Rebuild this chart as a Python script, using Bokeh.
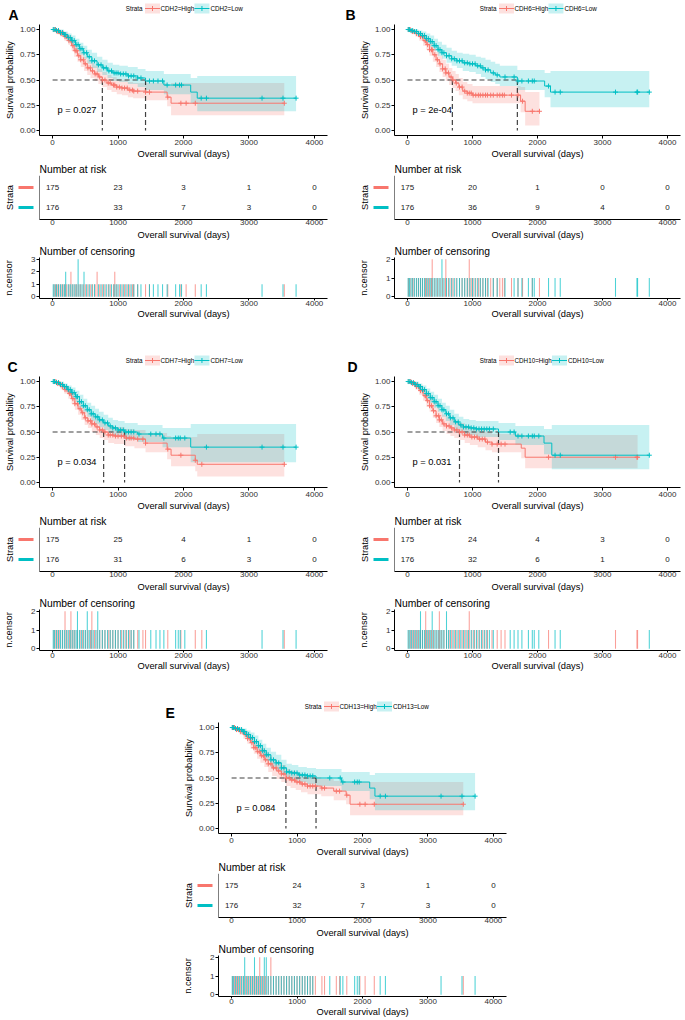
import numpy as np
from bokeh.plotting import figure
from bokeh.layouts import column, row
from bokeh.models import Range1d, FixedTicker, PrintfTickFormatter, Span, Spacer
from bokeh.core.properties import value
from bokeh.embed import file_html
from bokeh.resources import INLINE

RED = "#F8766D"
TEAL = "#00BFC4"
FONT = "Liberation Sans"

LETTERS = ["A", "B", "C", "D", "E"]
GENES = ["CDH2", "CDH6", "CDH7", "CDH10", "CDH13"]
PVALS = ["p = 0.027", "p = 2e-04", "p = 0.034", "p = 0.031", "p = 0.084"]
RISK_TIMES = [0, 1000, 2000, 3000, 4000]
X_TICKS = [0, 1000, 2000, 3000, 4000]
X_LO, X_HI = -200, 4200

# ---------------- Panel A : CDH2 ----------------
A_HIGH_T = [0, 60, 120, 180, 240, 290, 330, 380, 430, 480, 530, 580, 640, 700, 760, 830, 900, 980, 1060, 1150, 1230, 1420, 1750, 1810]
A_HIGH_S = [1.0, 0.98, 0.96, 0.93, 0.89, 0.84, 0.79, 0.74, 0.70, 0.66, 0.62, 0.59, 0.56, 0.53, 0.50, 0.47, 0.45, 0.43, 0.42, 0.40, 0.39, 0.38, 0.33, 0.27]
A_HIGH_LCL = [1.0, 0.96, 0.93, 0.89, 0.85, 0.79, 0.73, 0.68, 0.63, 0.59, 0.55, 0.52, 0.49, 0.46, 0.43, 0.40, 0.38, 0.36, 0.35, 0.33, 0.32, 0.30, 0.24, 0.15]
A_HIGH_UCL = [1.0, 1.0, 0.99, 0.97, 0.94, 0.89, 0.85, 0.81, 0.77, 0.73, 0.70, 0.67, 0.64, 0.61, 0.58, 0.55, 0.53, 0.51, 0.50, 0.48, 0.47, 0.47, 0.44, 0.47]
A_HIGH_CENS = [20, 45, 70, 95, 130, 160, 190, 215, 250, 280, 280, 310, 345, 370, 400, 430, 470, 500, 540, 575, 610, 650, 680, 680, 720, 760, 800, 850, 880, 930, 950, 950, 980, 1020, 1060, 1100, 1140, 1180, 1220, 1240, 1300, 1420, 1480, 1760, 1960, 2040, 2180, 3540]
A_LOW_T = [0, 50, 110, 170, 230, 290, 350, 410, 470, 530, 600, 680, 760, 840, 920, 1020, 1150, 1300, 1420, 1700, 2110, 2210]
A_LOW_S = [1.0, 0.99, 0.97, 0.95, 0.92, 0.89, 0.85, 0.81, 0.77, 0.73, 0.69, 0.65, 0.62, 0.59, 0.57, 0.56, 0.54, 0.52, 0.49, 0.45, 0.38, 0.32]
A_LOW_LCL = [1.0, 0.97, 0.95, 0.92, 0.88, 0.84, 0.80, 0.75, 0.71, 0.66, 0.62, 0.58, 0.55, 0.52, 0.49, 0.48, 0.46, 0.43, 0.40, 0.36, 0.27, 0.19]
A_LOW_UCL = [1.0, 1.0, 1.0, 0.98, 0.96, 0.94, 0.91, 0.87, 0.84, 0.80, 0.77, 0.73, 0.70, 0.67, 0.65, 0.64, 0.63, 0.61, 0.59, 0.56, 0.52, 0.54]
A_LOW_CENS = [10, 35, 60, 90, 120, 150, 180, 200, 200, 240, 270, 300, 330, 360, 390, 390, 390, 420, 450, 480, 480, 520, 560, 600, 640, 700, 740, 780, 820, 860, 900, 940, 970, 1000, 1040, 1080, 1120, 1160, 1200, 1240, 1300, 1350, 1480, 1540, 1610, 1680, 1750, 1880, 1940, 1970, 2270, 2350, 3200, 3520, 3720]
A_RISK_HIGH = [175, 23, 3, 1, 0]
A_RISK_LOW = [176, 33, 7, 3, 0]

# ---------------- Panel B : CDH6 ----------------
B_HIGH_T = [0, 60, 120, 180, 240, 290, 340, 390, 440, 490, 540, 590, 640, 690, 740, 790, 850, 920, 1000, 1740, 1810]
B_HIGH_S = [1.0, 0.98, 0.96, 0.93, 0.89, 0.85, 0.80, 0.75, 0.70, 0.66, 0.61, 0.57, 0.53, 0.50, 0.47, 0.43, 0.39, 0.37, 0.35, 0.29, 0.19]
B_HIGH_LCL = [1.0, 0.96, 0.93, 0.89, 0.84, 0.80, 0.74, 0.68, 0.63, 0.58, 0.53, 0.49, 0.45, 0.42, 0.39, 0.35, 0.31, 0.29, 0.27, 0.18, 0.05]
B_HIGH_UCL = [1.0, 1.0, 0.99, 0.97, 0.94, 0.91, 0.87, 0.82, 0.78, 0.74, 0.70, 0.66, 0.62, 0.59, 0.56, 0.52, 0.48, 0.46, 0.44, 0.43, 0.38]
B_HIGH_CENS = [15, 40, 75, 100, 140, 170, 200, 230, 270, 280, 310, 340, 370, 380, 380, 420, 460, 500, 540, 580, 590, 590, 630, 670, 700, 750, 800, 840, 880, 920, 950, 950, 980, 1010, 1050, 1090, 1120, 1160, 1200, 1230, 1280, 1320, 1380, 1420, 1460, 1490, 1600, 1700, 1770, 1920, 2030]
B_LOW_T = [0, 50, 110, 170, 230, 290, 350, 410, 470, 530, 600, 680, 760, 850, 950, 1050, 1130, 1200, 1280, 1350, 1420, 1690, 2110, 2200]
B_LOW_S = [1.0, 0.99, 0.98, 0.96, 0.94, 0.91, 0.88, 0.84, 0.80, 0.77, 0.74, 0.71, 0.69, 0.67, 0.66, 0.64, 0.62, 0.60, 0.57, 0.55, 0.53, 0.49, 0.44, 0.38]
B_LOW_LCL = [1.0, 0.98, 0.96, 0.93, 0.91, 0.87, 0.83, 0.79, 0.74, 0.71, 0.67, 0.64, 0.62, 0.59, 0.58, 0.56, 0.53, 0.51, 0.48, 0.46, 0.44, 0.40, 0.33, 0.23]
B_LOW_UCL = [1.0, 1.0, 1.0, 0.99, 0.98, 0.96, 0.94, 0.91, 0.88, 0.85, 0.82, 0.79, 0.77, 0.76, 0.75, 0.73, 0.72, 0.70, 0.68, 0.66, 0.64, 0.60, 0.57, 0.59]
B_LOW_CENS = [10, 30, 55, 80, 110, 140, 170, 200, 230, 260, 290, 320, 350, 380, 410, 440, 470, 500, 530, 530, 560, 600, 640, 680, 720, 760, 800, 840, 880, 920, 960, 1000, 1040, 1080, 1120, 1160, 1200, 1240, 1320, 1380, 1500, 1640, 1700, 1760, 1860, 1920, 1950, 2170, 2270, 2350, 3200, 3530, 3540, 3720]
B_RISK_HIGH = [175, 20, 1, 0, 0]
B_RISK_LOW = [176, 36, 9, 4, 0]

# ---------------- Panel C : CDH7 ----------------
C_HIGH_T = [0, 60, 120, 180, 240, 290, 340, 390, 440, 490, 540, 600, 660, 720, 780, 850, 940, 1100, 1250, 1420, 1750, 1810, 2180, 2210]
C_HIGH_S = [1.0, 0.98, 0.95, 0.92, 0.88, 0.83, 0.78, 0.73, 0.69, 0.64, 0.61, 0.58, 0.55, 0.52, 0.50, 0.47, 0.46, 0.44, 0.43, 0.39, 0.33, 0.27, 0.22, 0.18]
C_HIGH_LCL = [1.0, 0.96, 0.92, 0.88, 0.83, 0.78, 0.72, 0.67, 0.62, 0.57, 0.54, 0.50, 0.47, 0.44, 0.42, 0.39, 0.38, 0.36, 0.34, 0.30, 0.23, 0.16, 0.11, 0.06]
C_HIGH_UCL = [1.0, 1.0, 0.99, 0.96, 0.93, 0.89, 0.85, 0.80, 0.76, 0.72, 0.69, 0.66, 0.63, 0.61, 0.58, 0.56, 0.55, 0.53, 0.52, 0.49, 0.46, 0.45, 0.45, 0.48]
C_HIGH_CENS = [20, 50, 80, 110, 150, 190, 190, 220, 260, 280, 280, 310, 340, 380, 420, 460, 500, 540, 580, 600, 600, 640, 680, 720, 760, 800, 850, 880, 920, 960, 1000, 1050, 1090, 1130, 1170, 1200, 1240, 1300, 1380, 1420, 1760, 1960, 2180, 2280, 3540]
C_LOW_T = [0, 50, 110, 170, 230, 290, 350, 410, 470, 530, 590, 650, 710, 780, 850, 920, 1000, 1100, 1300, 1680, 2110]
C_LOW_S = [1.0, 0.99, 0.97, 0.95, 0.92, 0.89, 0.85, 0.80, 0.76, 0.72, 0.68, 0.65, 0.62, 0.59, 0.56, 0.54, 0.52, 0.50, 0.48, 0.44, 0.35]
C_LOW_LCL = [1.0, 0.97, 0.95, 0.92, 0.88, 0.84, 0.80, 0.74, 0.70, 0.65, 0.61, 0.58, 0.55, 0.52, 0.49, 0.47, 0.45, 0.42, 0.40, 0.35, 0.20]
C_LOW_UCL = [1.0, 1.0, 1.0, 0.98, 0.96, 0.94, 0.91, 0.87, 0.83, 0.79, 0.76, 0.73, 0.70, 0.67, 0.64, 0.62, 0.61, 0.59, 0.57, 0.54, 0.58]
C_LOW_CENS = [10, 30, 60, 90, 120, 150, 180, 210, 240, 270, 300, 330, 360, 380, 380, 410, 440, 470, 500, 530, 530, 560, 590, 620, 660, 690, 690, 720, 760, 800, 840, 880, 920, 960, 1000, 1040, 1080, 1120, 1160, 1200, 1240, 1320, 1500, 1580, 1640, 1700, 1880, 1920, 1950, 2020, 2350, 3200, 3520, 3720]
C_RISK_HIGH = [175, 25, 4, 1, 0]
C_RISK_LOW = [176, 31, 6, 3, 0]

# ---------------- Panel D : CDH10 ----------------
D_HIGH_T = [0, 60, 120, 180, 240, 290, 340, 390, 440, 490, 540, 600, 660, 720, 800, 880, 960, 1080, 1200, 1300, 1750, 1810]
D_HIGH_S = [1.0, 0.98, 0.95, 0.91, 0.86, 0.81, 0.76, 0.71, 0.66, 0.62, 0.58, 0.56, 0.54, 0.52, 0.50, 0.47, 0.45, 0.43, 0.40, 0.38, 0.34, 0.25]
D_HIGH_LCL = [1.0, 0.96, 0.92, 0.87, 0.81, 0.75, 0.70, 0.64, 0.59, 0.55, 0.51, 0.48, 0.46, 0.44, 0.42, 0.39, 0.37, 0.35, 0.32, 0.30, 0.24, 0.14]
D_HIGH_UCL = [1.0, 1.0, 0.99, 0.96, 0.92, 0.88, 0.84, 0.79, 0.74, 0.70, 0.67, 0.65, 0.63, 0.61, 0.59, 0.56, 0.54, 0.52, 0.50, 0.48, 0.47, 0.47]
D_HIGH_CENS = [20, 50, 80, 110, 140, 170, 200, 230, 270, 280, 280, 310, 340, 370, 400, 440, 480, 490, 490, 520, 560, 600, 640, 680, 720, 760, 800, 840, 880, 920, 950, 950, 990, 1030, 1070, 1110, 1150, 1190, 1230, 1300, 1380, 1440, 1500, 2170, 3200, 3530, 3540]
D_LOW_T = [0, 50, 110, 170, 230, 290, 350, 410, 470, 530, 590, 650, 720, 790, 860, 950, 1050, 1400, 1660, 2100, 2220]
D_LOW_S = [1.0, 0.99, 0.97, 0.95, 0.92, 0.88, 0.84, 0.80, 0.76, 0.72, 0.68, 0.64, 0.60, 0.57, 0.55, 0.54, 0.53, 0.50, 0.46, 0.39, 0.27]
D_LOW_LCL = [1.0, 0.97, 0.95, 0.92, 0.88, 0.84, 0.79, 0.74, 0.70, 0.65, 0.61, 0.57, 0.53, 0.50, 0.48, 0.47, 0.45, 0.42, 0.37, 0.28, 0.13]
D_LOW_UCL = [1.0, 1.0, 1.0, 0.98, 0.96, 0.93, 0.90, 0.87, 0.83, 0.79, 0.76, 0.72, 0.68, 0.65, 0.63, 0.62, 0.61, 0.59, 0.56, 0.53, 0.57]
D_LOW_CENS = [10, 35, 60, 90, 120, 150, 180, 200, 200, 230, 260, 290, 320, 350, 380, 380, 410, 440, 470, 500, 530, 560, 600, 600, 630, 660, 700, 740, 780, 820, 860, 900, 940, 980, 1020, 1060, 1100, 1140, 1180, 1220, 1260, 1320, 1580, 1640, 1700, 1760, 1860, 1920, 1950, 2020, 2270, 2350, 3720]
D_RISK_HIGH = [175, 24, 4, 3, 0]
D_RISK_LOW = [176, 32, 6, 1, 0]

# ---------------- Panel E : CDH13 ----------------
E_HIGH_T = [0, 60, 120, 180, 240, 290, 340, 390, 440, 500, 560, 620, 690, 760, 830, 900, 980, 1060, 1160, 1370, 1560, 1750, 1810]
E_HIGH_S = [1.0, 0.98, 0.96, 0.93, 0.89, 0.85, 0.80, 0.76, 0.72, 0.68, 0.64, 0.60, 0.57, 0.54, 0.50, 0.48, 0.46, 0.44, 0.42, 0.40, 0.37, 0.33, 0.24]
E_HIGH_LCL = [1.0, 0.96, 0.93, 0.89, 0.84, 0.79, 0.74, 0.69, 0.65, 0.61, 0.56, 0.52, 0.49, 0.46, 0.42, 0.40, 0.38, 0.36, 0.34, 0.32, 0.28, 0.24, 0.13]
E_HIGH_UCL = [1.0, 1.0, 0.99, 0.97, 0.94, 0.91, 0.87, 0.83, 0.80, 0.76, 0.72, 0.69, 0.66, 0.63, 0.59, 0.57, 0.55, 0.53, 0.51, 0.49, 0.47, 0.45, 0.46]
E_HIGH_CENS = [15, 45, 75, 105, 140, 175, 210, 245, 280, 310, 340, 370, 400, 430, 430, 460, 490, 520, 560, 600, 600, 640, 680, 720, 760, 800, 840, 880, 920, 960, 1000, 1040, 1080, 1120, 1160, 1200, 1240, 1280, 1380, 1420, 1600, 1650, 1760, 1960, 2040, 2180, 3540]
E_LOW_T = [0, 50, 110, 170, 230, 290, 350, 410, 470, 530, 600, 680, 760, 840, 920, 1020, 1150, 1290, 1680, 2110, 2190]
E_LOW_S = [1.0, 0.99, 0.98, 0.96, 0.93, 0.90, 0.86, 0.82, 0.77, 0.73, 0.68, 0.65, 0.60, 0.56, 0.55, 0.53, 0.52, 0.50, 0.46, 0.40, 0.32]
E_LOW_LCL = [1.0, 0.97, 0.96, 0.93, 0.89, 0.85, 0.81, 0.77, 0.71, 0.67, 0.61, 0.58, 0.53, 0.49, 0.48, 0.46, 0.44, 0.42, 0.37, 0.29, 0.18]
E_LOW_UCL = [1.0, 1.0, 1.0, 0.99, 0.97, 0.95, 0.92, 0.88, 0.84, 0.80, 0.76, 0.73, 0.68, 0.64, 0.63, 0.61, 0.60, 0.59, 0.56, 0.53, 0.55]
E_LOW_CENS = [10, 30, 60, 90, 120, 150, 180, 200, 200, 230, 260, 290, 320, 350, 350, 380, 410, 440, 470, 500, 500, 530, 530, 560, 600, 640, 680, 720, 760, 800, 840, 880, 920, 960, 1000, 1040, 1080, 1120, 1160, 1200, 1240, 1500, 1660, 1700, 1880, 1920, 1950, 2270, 2350, 3200, 3520, 3720]
E_RISK_HIGH = [175, 24, 3, 1, 0]
E_RISK_LOW = [176, 32, 7, 3, 0]

PANELS = [
    ((A_HIGH_T, A_HIGH_S, A_HIGH_LCL, A_HIGH_UCL, A_HIGH_CENS, A_RISK_HIGH),
     (A_LOW_T, A_LOW_S, A_LOW_LCL, A_LOW_UCL, A_LOW_CENS, A_RISK_LOW)),
    ((B_HIGH_T, B_HIGH_S, B_HIGH_LCL, B_HIGH_UCL, B_HIGH_CENS, B_RISK_HIGH),
     (B_LOW_T, B_LOW_S, B_LOW_LCL, B_LOW_UCL, B_LOW_CENS, B_RISK_LOW)),
    ((C_HIGH_T, C_HIGH_S, C_HIGH_LCL, C_HIGH_UCL, C_HIGH_CENS, C_RISK_HIGH),
     (C_LOW_T, C_LOW_S, C_LOW_LCL, C_LOW_UCL, C_LOW_CENS, C_RISK_LOW)),
    ((D_HIGH_T, D_HIGH_S, D_HIGH_LCL, D_HIGH_UCL, D_HIGH_CENS, D_RISK_HIGH),
     (D_LOW_T, D_LOW_S, D_LOW_LCL, D_LOW_UCL, D_LOW_CENS, D_RISK_LOW)),
    ((E_HIGH_T, E_HIGH_S, E_HIGH_LCL, E_HIGH_UCL, E_HIGH_CENS, E_RISK_HIGH),
     (E_LOW_T, E_LOW_S, E_LOW_LCL, E_LOW_UCL, E_LOW_CENS, E_RISK_LOW)),
]
COLORS = [RED, TEAL]

# layout geometry: (left border, frame width, right border, letter x in panel)
GEOM = [(39, 288, 13, 8), (54, 286, 5, 5), (39, 288, 13, 7), (54, 286, 5, 7), (58, 288, 10, 5)]
KM_H, RISK_H, CENS_H, HEAD_H = 111, 44, 41, 24


def base_fig(fw, fh, xr, yr, lb, rb, tb, bb, **kw):
    p = figure(frame_width=fw, frame_height=fh, x_range=xr, y_range=yr,
               min_border_left=lb, min_border_right=rb, min_border_top=tb, min_border_bottom=bb,
               toolbar_location=None, output_backend="svg",
               outline_line_color=None, background_fill_color="white", border_fill_color="white", **kw)
    p.xgrid.visible = False
    p.ygrid.visible = False
    return p


def style_axis(ax, label, tick_out, std, label_std):
    ax.axis_label = label
    ax.axis_label_text_font = FONT
    ax.axis_label_text_font_size = "9.3px"
    ax.axis_label_text_font_style = "normal"
    ax.axis_label_text_color = "black"
    ax.axis_label_standoff = label_std
    ax.major_label_text_font = FONT
    ax.major_label_text_font_size = "8px"
    ax.major_label_text_color = "#303030"
    ax.major_label_standoff = std
    ax.major_tick_out = tick_out
    ax.major_tick_in = 0
    ax.minor_tick_line_color = None
    ax.axis_line_color = "black"
    ax.axis_line_width = 1
    ax.major_tick_line_color = "black" if tick_out > 0 else None


def style_title(p, standoff):
    p.title.text_font = FONT
    p.title.text_font_size = "10.3px"
    p.title.text_font_style = "normal"
    p.title.text_color = "black"
    p.title.align = "left"
    p.title.standoff = standoff


def steps(t, v, t_end):
    xs, ys = [], []
    for i in range(len(t)):
        x1 = t[i + 1] if i + 1 < len(t) else t_end
        xs += [t[i], x1]
        ys += [v[i], v[i]]
    return xs, ys


def header_row(letter, gene, geo):
    lb, fw, rb, lx = geo
    W = lb + fw + rb
    h = base_fig(W, HEAD_H, Range1d(0, W), Range1d(0, HEAD_H), 0, 0, 0, 0,
                 x_axis_location=None, y_axis_location=None, title=None)
    h.text(x=[lx], y=[10], text=[letter], text_font=value(FONT), text_font_size="14px",
           text_font_style="bold", text_align="left", text_baseline="middle", text_color="black")
    cx = lb + fw / 2
    ly = 16
    lab1, lab2 = gene + "=High", gene + "=Low"
    k1 = cx - 31
    k2 = cx - 23 + 3.55 * len(lab1) + 9.5
    h.text(x=[cx - 41], y=[ly], text=["Strata"], text_font=value(FONT), text_font_size="6.3px",
           text_align="right", text_baseline="middle", text_color="black")
    for kx, col in ((k1, RED), (k2, TEAL)):
        h.rect(x=[kx], y=[ly], width=15, height=10, fill_color=col, fill_alpha=0.22, line_color=None)
        h.line(x=[kx - 7.5, kx + 7.5], y=[ly, ly], line_color=col, line_width=1)
        h.scatter(x=[kx], y=[ly], marker="cross", size=5, line_color=col, line_width=1)
    h.text(x=[cx - 23, k2 + 8.5], y=[ly, ly], text=[lab1, lab2], text_font=value(FONT),
           text_font_size="6.3px", text_align="left", text_baseline="middle", text_color="black")
    return row(h)


def km_fig(strata, pval, geo):
    lb, fw, rb, _ = geo
    p = base_fig(fw, KM_H, Range1d(X_LO, X_HI), Range1d(-0.05, 1.05), lb, rb, 0, 25, title=None)
    curves = []
    for (t, s, lcl, ucl, cens, _), col in zip(strata, COLORS):
        t_end = max(cens)
        xs, lo = steps(t, lcl, t_end)
        _, hi = steps(t, ucl, t_end)
        p.varea(x=xs, y1=lo, y2=hi, fill_color=col, fill_alpha=0.22)
        curves.append((t, s, cens, col, t_end))
    meds = []
    for t, s, cens, col, t_end in curves:
        sa = np.array(s)
        meds.append(t[int(np.argmax(sa <= 0.5))])
    p.line(x=[0, max(meds)], y=[0.5, 0.5], line_color="black", line_alpha=0.75, line_width=1.2, line_dash="5 3")
    p.segment(x0=meds, y0=[0.5] * len(meds), x1=meds, y1=[0] * len(meds),
              line_color="black", line_alpha=0.75, line_width=1.2, line_dash="5 3")
    for t, s, cens, col, t_end in curves:
        xs, ys = steps(t, s, t_end)
        p.line(x=xs, y=ys, line_color=col, line_width=1)
        ut = np.unique(cens)
        idx = np.searchsorted(np.array(t), ut, side="right") - 1
        p.scatter(x=ut, y=np.array(s)[idx], marker="cross", size=5, line_color=col, line_width=1)
    p.text(x=[75], y=[0.2], text=[pval], text_font=value(FONT), text_font_size="9.3px",
           text_align="left", text_baseline="middle", text_color="black")
    p.xaxis.ticker = FixedTicker(ticks=X_TICKS)
    p.yaxis.ticker = FixedTicker(ticks=[0, 0.25, 0.5, 0.75, 1.0])
    p.yaxis.formatter = PrintfTickFormatter(format="%.2f")
    style_axis(p.xaxis[0], "Overall survival (days)", 3, 1, 1)
    style_axis(p.yaxis[0], "Survival probability", 3, 1, 2)
    return p


def risk_row(strata, geo):
    lb, fw, rb, _ = geo
    n = len(strata)
    yr = Range1d(0.4, n + 0.6)
    rows = [n - i for i in range(n)]
    s = base_fig(lb, RISK_H, Range1d(0, lb), yr, 0, 0, 13, 22,
                 x_axis_location=None, y_axis_location=None, title=None)
    s.text(x=[lb - 30], y=[(n + 1) / 2], text=["Strata"], angle=np.pi / 2, text_font=value(FONT),
           text_font_size="9.3px", text_align="center", text_baseline="middle", text_color="black")
    s.segment(x0=[lb - 21] * n, y0=rows, x1=[lb - 6] * n, y1=rows, line_color=COLORS[:n], line_width=3)
    r = base_fig(fw, RISK_H, Range1d(X_LO, X_HI), yr, 0, rb, 13, 22,
                 y_axis_location=None, title="Number at risk")
    style_title(r, 1)
    r.add_layout(Span(location=X_LO, dimension="height", line_color="black", line_width=1))
    for st, yv in zip(strata, rows):
        r.text(x=RISK_TIMES, y=[yv] * len(RISK_TIMES), text=[str(v) for v in st[5]],
               text_font=value(FONT), text_font_size="8px", text_align="center",
               text_baseline="middle", text_color="#202020")
    r.xaxis.ticker = FixedTicker(ticks=X_TICKS)
    style_axis(r.xaxis[0], "Overall survival (days)", 0, 0, 2)
    return row(s, r)


def cens_fig(strata, geo):
    lb, fw, rb, _ = geo
    counts = [np.unique(st[4], return_counts=True) for st in strata]
    ymax = int(max(c.max() for _, c in counts))
    p = base_fig(fw, CENS_H, Range1d(X_LO, X_HI), Range1d(-0.05 * ymax, 1.05 * ymax), lb, rb, 13, 22,
                 title="Number of censoring")
    style_title(p, 2)
    for (ut, c), col in zip(counts, COLORS):
        p.vbar(x=ut, top=c, bottom=0, width=16, fill_color=col, fill_alpha=0.7, line_color=None)
    p.xaxis.ticker = FixedTicker(ticks=X_TICKS)
    p.yaxis.ticker = FixedTicker(ticks=list(range(ymax + 1)))
    style_axis(p.xaxis[0], "Overall survival (days)", 2, 0, 0)
    style_axis(p.yaxis[0], "n.censor", 3, 1, 14)
    return p


def panel(i):
    geo = GEOM[i]
    strata = PANELS[i]
    return column(header_row(LETTERS[i], GENES[i], geo), km_fig(strata, PVALS[i], geo),
                  risk_row(strata, geo), cens_fig(strata, geo))


layout = column(
    row(panel(0), panel(1)),
    Spacer(width=10, height=31),
    row(panel(2), panel(3)),
    Spacer(width=10, height=25),
    row(Spacer(width=160, height=10), panel(4)),
)

open("out.html", "w").write(file_html(layout, INLINE))
